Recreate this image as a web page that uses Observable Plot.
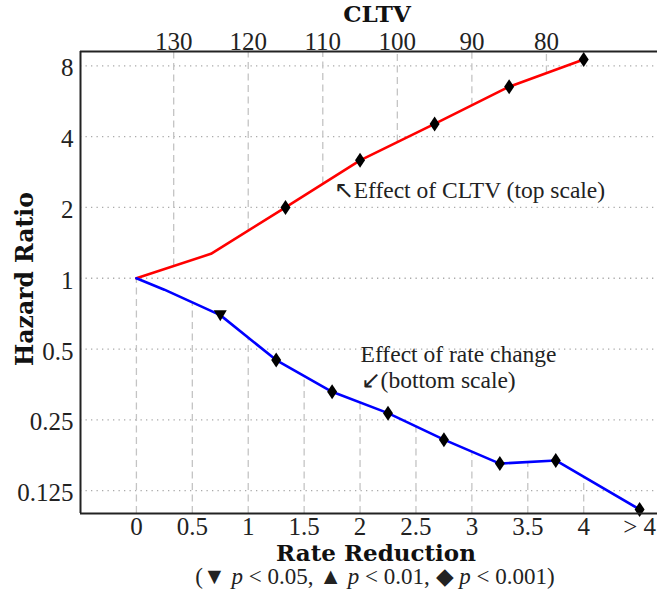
<!DOCTYPE html>
<html><head><meta charset="utf-8">
<script src="https://cdn.jsdelivr.net/npm/d3@7"></script>
<script src="https://cdn.jsdelivr.net/npm/@observablehq/plot@0.6"></script>
<style>body{margin:0;background:#fff;}</style>
</head><body><div id="chart"></div>
<script>
// ---- data ----
const rateX   = [0, 0.25, 0.75, 1.25, 1.75, 2.25, 2.75, 3.25, 3.75, 4.5];
const rateHR  = [1, 0.894, 0.697, 0.449, 0.329, 0.267, 0.206, 0.163, 0.168, 0.104];
const rateSig = ["ref", "", "*", "***", "***", "***", "***", "***", "***", "***"];
const cltv    = [135, 125, 115, 105, 95, 85, 75];
const cltvHR  = [1, 1.27, 2.0, 3.17, 4.53, 6.52, 8.51];
const cltvSig = ["ref", "", "***", "***", "***", "***", "***"];
const rateTicks = [0, 0.5, 1, 1.5, 2, 2.5, 3, 3.5, 4, 4.5];
const rateTickLabels = ["0", "0.5", "1", "1.5", "2", "2.5", "3", "3.5", "4", "> 4"];
const cltvTicks = [130, 120, 110, 100, 90, 80];
const hrTicks = [0.125, 0.25, 0.5, 1, 2, 4, 8];
const hrTickLabels = ["0.125", "0.25", "0.5", "1", "2", "4", "8"];
const annX = [1.764, 2.005, 2.005];
const annY = [2.35, 0.476, 0.366];
const annText = ["\u2196Effect of CLTV (top scale)", "Effect of rate change", "\u2199(bottom scale)"];

// ---- helpers ----
const xDomain = [-0.5, 4.66];
const yDomain = [0.1, 9.2];
const cltvToX = c => (135 - c) / 15;           // top scale -> bottom scale position
const cltvPos = cltvTicks.map(cltvToX);
function interpLog(xs, ys, x) {
  for (let i = 0; i < xs.length - 1; i++) {
    if (x >= xs[i] && x <= xs[i + 1]) {
      const t = (x - xs[i]) / (xs[i + 1] - xs[i]);
      return Math.exp(Math.log(ys[i]) * (1 - t) + Math.log(ys[i + 1]) * t);
    }
  }
  return null;
}
const rateData = rateX.map((x, i) => ({x, hr: rateHR[i], sig: rateSig[i]}));
const cltvXs = cltv.map(cltvToX);
const cltvData = cltv.map((c, i) => ({x: cltvXs[i], hr: cltvHR[i], sig: cltvSig[i]}));
const bottomGrid = rateTicks.map(t => ({x: t, y: interpLog(rateX, rateHR, t)})).filter(d => d.y);
const topGrid = cltvPos.map(t => ({x: t, y: interpLog(cltvXs, cltvHR, t)})).filter(d => d.y);
const ann = annText.map((text, i) => ({x: annX[i], y: annY[i], text}));

const tallDiamond = {draw(ctx, size) {
  const s = Math.sqrt(size / Math.PI);
  ctx.moveTo(0, -1.5 * s); ctx.lineTo(s, 0); ctx.lineTo(0, 1.5 * s); ctx.lineTo(-s, 0); ctx.closePath();
}};
const downTri = {draw(ctx, size) {
  const s = Math.sqrt(size / Math.PI);
  ctx.moveTo(-1.0 * s, -0.75 * s); ctx.lineTo(1.0 * s, -0.75 * s); ctx.lineTo(0, 0.95 * s); ctx.closePath();
}};

const chart = Plot.plot({
  width: 657, height: 590,
  marginLeft: 80, marginRight: 0, marginTop: 51, marginBottom: 77,
  x: {domain: xDomain},
  y: {type: "log", base: 2, domain: yDomain},
  style: {fontFamily: "'Liberation Serif', serif", fontSize: "25px", color: "#222", background: "#fff", overflow: "visible"},
  marks: [
    Plot.ruleY(hrTicks, {stroke: "#aaa", strokeWidth: 1.3, strokeDasharray: "1.3,4.2"}),
    Plot.ruleX(bottomGrid, {x: "x", y1: yDomain[0], y2: "y", stroke: "#c4c4c4", strokeWidth: 1.3, strokeDasharray: "7,4.5"}),
    Plot.ruleX(topGrid, {x: "x", y1: "y", y2: yDomain[1], stroke: "#c4c4c4", strokeWidth: 1.3, strokeDasharray: "7,4.5"}),
    Plot.line(cltvData, {x: "x", y: "hr", stroke: "#ff0000", strokeWidth: 2.6}),
    Plot.line(rateData, {x: "x", y: "hr", stroke: "#0000ff", strokeWidth: 2.6}),
    Plot.dot(cltvData.filter(d => d.sig === "***"), {x: "x", y: "hr", symbol: tallDiamond, r: 5, fill: "#000", stroke: "none"}),
    Plot.dot(rateData.filter(d => d.sig === "***"), {x: "x", y: "hr", symbol: tallDiamond, r: 5, fill: "#000", stroke: "none"}),
    Plot.dot(rateData.filter(d => d.sig === "*"), {x: "x", y: "hr", symbol: downTri, r: 6.5, fill: "#000", stroke: "none"}),
    Plot.ruleY(yDomain, {stroke: "#222", strokeWidth: 2}),
    Plot.ruleX([xDomain[0]], {stroke: "#222", strokeWidth: 2}),
    Plot.axisY(hrTicks, {tickSize: 0, tickPadding: 7, dy: 2.5, label: null, tickFormat: d => hrTickLabels[hrTicks.indexOf(d)]}),
    Plot.axisX(rateTicks, {anchor: "bottom", tickSize: 0, tickPadding: 4, label: null, tickFormat: d => rateTickLabels[rateTicks.indexOf(d)]}),
    Plot.axisX(cltvPos, {anchor: "top", tickSize: 0, tickPadding: 2, label: null, tickFormat: d => String(cltvTicks[cltvPos.indexOf(d)])}),
    Plot.text(ann, {x: "x", y: "y", text: "text", textAnchor: "start", lineAnchor: "middle", fontSize: 23.5, fill: "#222"})
  ]
});
document.getElementById("chart").appendChild(chart);

// axis titles and caption
const svg = d3.select(chart);
const bold = "'DejaVu Serif', serif";
svg.append("text").attr("x", 377).attr("y", 21.5).attr("text-anchor", "middle")
  .attr("font-family", bold).attr("font-weight", "bold").attr("font-size", 23).attr("fill", "#111").text("CLTV");
svg.append("text").attr("x", 376).attr("y", 561).attr("text-anchor", "middle")
  .attr("font-family", bold).attr("font-weight", "bold").attr("font-size", 23).attr("fill", "#111").text("Rate Reduction");
svg.append("text").attr("transform", "translate(33,279) rotate(-90)").attr("text-anchor", "middle")
  .attr("font-family", bold).attr("font-weight", "bold").attr("font-size", 23.5).attr("fill", "#111").text("Hazard Ratio");
const cap = svg.append("text").attr("x", 375).attr("y", 584).attr("text-anchor", "middle")
  .attr("font-family", "'Liberation Serif', serif").attr("font-size", 23).attr("fill", "#222");
const parts = [["(\u25BC ", false], ["p", true], [" < 0.05, \u25B2 ", false], ["p", true], [" < 0.01, \u25C6 ", false], ["p", true], [" < 0.001)", false]];
parts.forEach(([t, it]) => cap.append("tspan").attr("font-style", it ? "italic" : "normal").text(t));
</script>
</body></html>
